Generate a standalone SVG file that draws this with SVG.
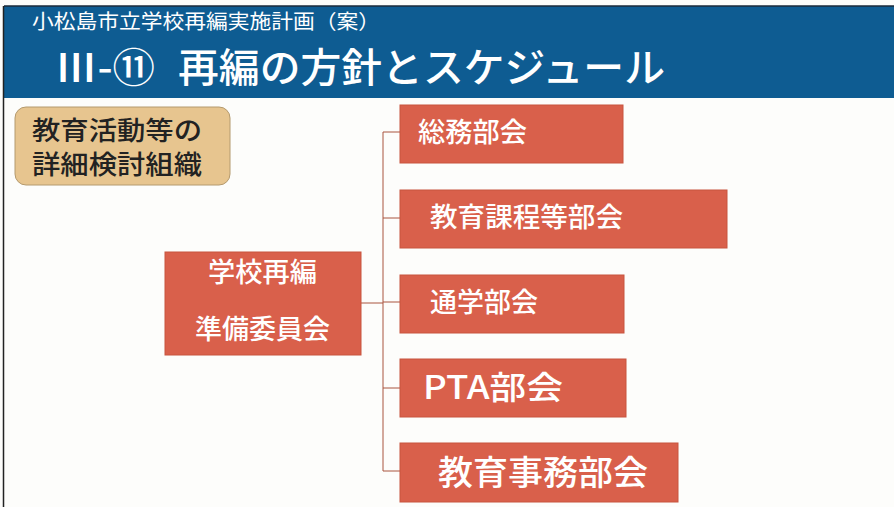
<svg xmlns="http://www.w3.org/2000/svg" width="894" height="507" viewBox="0 0 894 507">
<style>
  .jp { font-family: "Noto Sans CJK JP", "Noto Sans", sans-serif; }
  .node rect.box { fill: #d9604b; stroke: #c8553f; stroke-width: 1; }
  .node text { fill: #ffffff; font-weight: 500; }
  .conn { stroke: #a9553f; stroke-width: 1; fill: none; }
</style>
<rect x="0" y="0" width="894" height="507" fill="#fdfdfb"/>
<g id="header">
  <rect x="4" y="6" width="890" height="92" fill="#0e5c92"/>
  <line x1="4" y1="6" x2="894" y2="6" stroke="#1a2a3a" stroke-width="1.5"/>
  <text class="jp" x="32" y="29" font-size="20" fill="#ffffff" textLength="348" lengthAdjust="spacingAndGlyphs">小松島市立学校再編実施計画（案）</text>
  <text class="jp" x="55" y="82" font-size="40" fill="#ffffff" font-weight="500" textLength="100" lengthAdjust="spacingAndGlyphs">Ⅲ-⑪</text>
  <text class="jp" x="178" y="82" font-size="40" fill="#ffffff" font-weight="500" textLength="487" lengthAdjust="spacingAndGlyphs">再編の方針とスケジュール</text>
</g>
<line x1="3.5" y1="6" x2="3.5" y2="507" stroke="#222" stroke-width="1.5"/>
<g id="label">
  <rect x="15" y="107" width="215" height="78" rx="11" ry="11" fill="#e7c58f" stroke="#b49a6e" stroke-width="1"/>
  <text class="jp" x="32" y="140" font-size="26" fill="#222" font-weight="500" textLength="170" lengthAdjust="spacingAndGlyphs">教育活動等の</text>
  <text class="jp" x="32" y="174" font-size="26" fill="#222" font-weight="500" textLength="170" lengthAdjust="spacingAndGlyphs">詳細検討組織</text>
</g>
<g id="connectors">
  <line class="conn" x1="361" y1="303" x2="383" y2="303"/>
  <line class="conn" x1="383" y1="132" x2="383" y2="471"/>
  <line class="conn" x1="383" y1="132" x2="400" y2="132"/>
  <line class="conn" x1="383" y1="218" x2="400" y2="218"/>
  <line class="conn" x1="383" y1="302" x2="400" y2="302"/>
  <line class="conn" x1="383" y1="388" x2="400" y2="388"/>
  <line class="conn" x1="383" y1="471" x2="400" y2="471"/>
</g>
<g id="node-junbi" class="node">
  <rect class="box" x="165" y="252" width="196" height="103"/>
  <text class="jp" x="208" y="282" font-size="27" textLength="109" lengthAdjust="spacingAndGlyphs">学校再編</text>
  <text class="jp" x="195" y="339" font-size="27" textLength="135" lengthAdjust="spacingAndGlyphs">準備委員会</text>
</g>
<g id="node-somu" class="node">
  <rect class="box" x="400" y="105" width="223" height="58"/>
  <text class="jp" x="418" y="142" font-size="27" textLength="109" lengthAdjust="spacingAndGlyphs">総務部会</text>
</g>
<g id="node-kyoiku-katei" class="node">
  <rect class="box" x="400" y="190" width="327" height="58"/>
  <text class="jp" x="430" y="227" font-size="27" textLength="193" lengthAdjust="spacingAndGlyphs">教育課程等部会</text>
</g>
<g id="node-tsugaku" class="node">
  <rect class="box" x="400" y="275" width="224" height="58"/>
  <text class="jp" x="430" y="312" font-size="27" textLength="108" lengthAdjust="spacingAndGlyphs">通学部会</text>
</g>
<g id="node-pta" class="node">
  <rect class="box" x="400" y="359" width="226" height="58"/>
  <text class="jp" x="423" y="399" font-size="32" textLength="140" lengthAdjust="spacingAndGlyphs">PTA部会</text>
</g>
<g id="node-jimu" class="node">
  <rect class="box" x="400" y="443" width="278" height="59"/>
  <text class="jp" x="438" y="485" font-size="34" textLength="210" lengthAdjust="spacingAndGlyphs">教育事務部会</text>
</g>
</svg>
